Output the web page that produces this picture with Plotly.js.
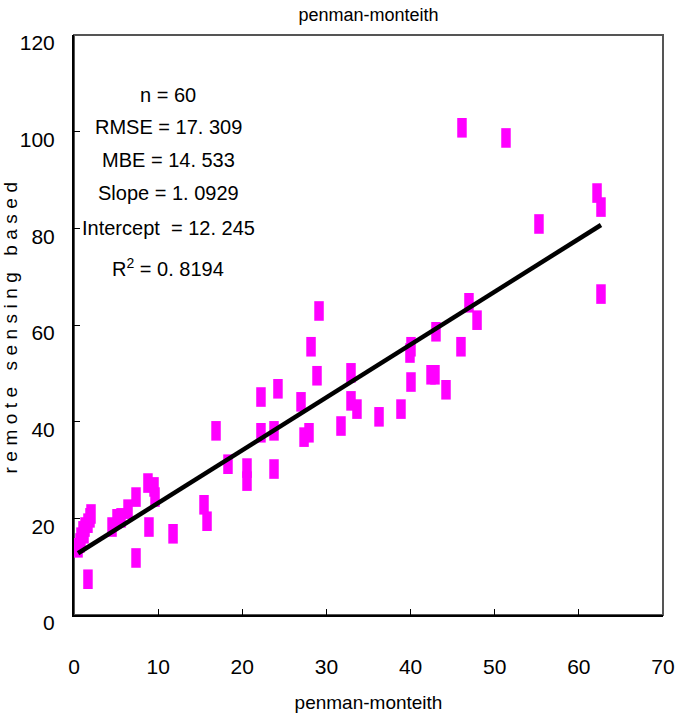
<!DOCTYPE html>
<html>
<head>
<meta charset="utf-8">
<script src="https://cdn.plot.ly/plotly-3.0.1.min.js"></script>
<style>
  html, body { margin: 0; padding: 0; background: #fff; }
  #chart { width: 675px; height: 715px; }
  .ytitle { letter-spacing: 5.5px; }
</style>
</head>
<body>
<div id="chart"></div>
<script>
// Penman-Monteith (x) vs remote sensing based (y)
const pmValues = [0.48, 0.71, 0.83, 1.07, 1.31, 1.66, 1.90, 2.02, 1.19, 1.66,
  4.52, 5.11, 5.59, 6.42, 7.37, 7.37, 8.79, 9.51, 9.63, 8.91,
  11.77, 15.45, 15.81, 16.88, 18.30, 20.56, 20.56, 22.22, 22.22, 23.77,
  24.24, 23.77, 26.98, 27.34, 27.93, 28.17, 28.88, 29.12, 31.73, 32.92,
  32.92, 33.63, 36.25, 38.86, 40.05, 39.93, 40.05, 42.43, 42.90, 44.21,
  43.02, 45.99, 46.94, 47.90, 46.11, 51.34, 55.26, 62.16, 62.63, 62.63];
const rsValues = [13.9, 14.9, 16.1, 17.4, 18.2, 19.0, 20.1, 20.9, 16.8, 7.4,
  18.2, 19.9, 20.1, 21.9, 11.8, 24.4, 27.3, 26.5, 24.4, 18.2,
  16.8, 22.8, 19.4, 38.1, 31.2, 30.4, 27.7, 45.1, 37.7, 38.1,
  46.8, 30.2, 44.1, 36.8, 37.7, 55.5, 49.5, 62.9, 39.1, 50.1,
  44.3, 42.6, 41.0, 42.6, 55.5, 54.2, 48.2, 49.7, 49.7, 46.6,
  58.6, 55.5, 64.6, 61.0, 100.8, 98.7, 80.9, 87.3, 84.4, 66.4];

const statLabels = ["n = 60", "RMSE = 17. 309", "MBE = 14. 533", "Slope = 1. 0929",
  "Intercept  = 12. 245", "R<sup>2</sup> = 0. 8194"];
const statY = [107.6, 101.0, 94.1, 87.3, 80.1, 71.8];

const slope = 1.0929;
const intercept = 12.245;

const xTicks = [0, 10, 20, 30, 40, 50, 60, 70];
const yTicks = [0, 20, 40, 60, 80, 100, 120];

const fitX = [Math.min(...pmValues), Math.max(...pmValues)];
const fitY = fitX.map(v => slope * v + intercept);

const fam = "Liberation Sans, Arial, sans-serif";

const traces = [
  {
    type: 'scatter', mode: 'markers', x: pmValues, y: rsValues,
    marker: { symbol: 'line-ns', size: 14, color: '#ff00ff',
              line: { width: 9.5, color: '#ff00ff' } },
    showlegend: false, hoverinfo: 'x+y'
  },
  {
    type: 'scatter', mode: 'lines', x: fitX, y: fitY,
    line: { color: '#000000', width: 4.5 },
    showlegend: false, hoverinfo: 'skip'
  }
];

const annotations = statLabels.map((t, i) => ({
  x: 11.2, y: statY[i], xref: 'x', yref: 'y', text: t, showarrow: false,
  xanchor: 'center', yanchor: 'middle',
  font: { family: fam, size: 20, color: '#000' }
}));

const layout = {
  width: 675, height: 715,
  margin: { l: 74, r: 12, t: 35, b: 100 },
  paper_bgcolor: '#ffffff', plot_bgcolor: '#ffffff',
  showlegend: false,
  title: { text: 'penman-monteith', x: 0.5, xref: 'paper', y: 0.979, yref: 'container',
           yanchor: 'middle', font: { family: fam, size: 18, color: '#000' } },
  xaxis: {
    range: [0, 70], tickvals: xTicks, ticktext: xTicks.map(String),
    ticks: 'inside', ticklen: 6, tickwidth: 1, tickcolor: '#000',
    showline: true, linecolor: '#000', linewidth: 2, showgrid: false, zeroline: false,
    ticklabelstandoff: 32, ticklabeloverflow: 'allow',
    tickfont: { family: fam, size: 21, color: '#000' },
    title: { text: 'penman-monteith', standoff: 18,
             font: { family: fam, size: 19, color: '#000' } }
  },
  yaxis: {
    range: [0, 120], tickvals: yTicks, ticktext: yTicks.map(String),
    ticks: 'inside', ticklen: 6, tickwidth: 1, tickcolor: '#000',
    showline: true, linecolor: '#000', linewidth: 2, showgrid: false, zeroline: false,
    ticklabelstandoff: 13, ticklabelshift: 8, ticklabeloverflow: 'allow',
    tickfont: { family: fam, size: 21, color: '#000' },
    title: { text: 'remote sensing based', standoff: 12,
             font: { family: fam, size: 19, color: '#000' } }
  },
  shapes: [{
    type: 'rect', xref: 'paper', yref: 'paper', x0: 0, x1: 1, y0: 0, y1: 1,
    line: { color: '#555555', width: 2 }, layer: 'below'
  }],
  annotations: annotations
};

Plotly.newPlot('chart', traces, layout, { displayModeBar: false, staticPlot: true });
</script>
</body>
</html>
